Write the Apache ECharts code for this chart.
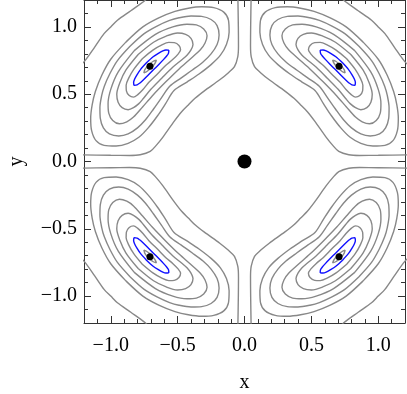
<!DOCTYPE html>
<html>
<head>
<meta charset="utf-8">
<script src="https://cdn.jsdelivr.net/npm/echarts@6/dist/echarts.min.js"></script>
<style>
html, body { margin: 0; padding: 0; background: #fff; }
#chart { width: 407px; height: 394px; }
</style>
</head>
<body>
<div id="chart"></div>
<script>
// contour lines traced in the upper-right quadrant (picture is symmetric, mirrored below)
const curveA = [[0.05,1.25],[0.046,1.0],[0.045,0.86],[0.05,0.78],[0.075,0.705],[0.12,0.66],[0.185,0.607],[0.30,0.525],[0.37,0.47],[0.42,0.42],[0.47,0.37],[0.525,0.30],[0.607,0.185],[0.66,0.12],[0.705,0.075],[0.78,0.05],[0.86,0.045],[1.0,0.046],[1.25,0.05]];
const curveB = [[0.70,1.25],[0.74,1.2],[0.85,1.12],[0.95,1.05],[1.0,1.0],[1.05,0.95],[1.12,0.85],[1.2,0.74],[1.25,0.70]];
const ring1 = [[0.887,0.887],[1.000,0.76],[1.067,0.641],[1.115,0.52],[1.139,0.42],[1.150,0.32],[1.143,0.23],[1.11,0.155],[1.05,0.12],[0.96,0.115],[0.87,0.135],[0.79,0.18],[0.72,0.25],[0.65,0.34],[0.59,0.43],[0.527,0.527],[0.43,0.59],[0.34,0.65],[0.25,0.72],[0.18,0.79],[0.135,0.87],[0.115,0.96],[0.12,1.05],[0.155,1.11],[0.23,1.143],[0.32,1.150],[0.42,1.139],[0.52,1.115],[0.641,1.067],[0.76,1.0],[0.887,0.887]];
const ring2 = [[0.856,0.856],[0.95,0.75],[1.006,0.654],[1.048,0.56],[1.068,0.489],[1.081,0.40],[1.078,0.32],[1.055,0.25],[1.01,0.205],[0.94,0.19],[0.87,0.205],[0.80,0.25],[0.74,0.31],[0.68,0.39],[0.62,0.475],[0.559,0.559],[0.475,0.62],[0.39,0.68],[0.31,0.74],[0.25,0.80],[0.205,0.87],[0.19,0.94],[0.205,1.01],[0.25,1.055],[0.32,1.078],[0.40,1.081],[0.489,1.068],[0.56,1.048],[0.654,1.006],[0.75,0.95],[0.856,0.856]];
const ring3 = [[0.824,0.824],[0.944,0.666],[1.0,0.536],[1.02,0.43],[1.015,0.36],[0.985,0.305],[0.935,0.28],[0.88,0.295],[0.83,0.33],[0.762,0.405],[0.69,0.487],[0.59,0.59],[0.487,0.69],[0.405,0.762],[0.33,0.83],[0.295,0.88],[0.28,0.935],[0.305,0.985],[0.36,1.015],[0.43,1.02],[0.536,1.0],[0.666,0.944],[0.824,0.824]];
const ring4 = [[0.795,0.795],[0.886,0.68],[0.932,0.585],[0.955,0.50],[0.945,0.44],[0.915,0.40],[0.87,0.385],[0.83,0.40],[0.79,0.43],[0.758,0.466],[0.70,0.537],[0.619,0.619],[0.537,0.70],[0.466,0.758],[0.43,0.79],[0.40,0.83],[0.385,0.87],[0.40,0.915],[0.44,0.945],[0.50,0.955],[0.585,0.932],[0.68,0.886],[0.795,0.795]];
const ring5 = [[0.764,0.764],[0.828,0.685],[0.865,0.621],[0.885,0.566],[0.883,0.525],[0.862,0.49],[0.83,0.478],[0.80,0.495],[0.759,0.535],[0.713,0.59],[0.651,0.651],[0.59,0.713],[0.535,0.759],[0.495,0.80],[0.478,0.83],[0.49,0.862],[0.525,0.883],[0.566,0.885],[0.621,0.865],[0.685,0.828],[0.764,0.764]];
const ringCore = [[0.718,0.718],[0.745,0.682],[0.752,0.659],[0.730,0.669],[0.696,0.696],[0.669,0.730],[0.659,0.752],[0.682,0.745],[0.718,0.718]];
const ringBlue = [[0.733,0.733],[0.778,0.683],[0.804,0.644],[0.822,0.611],[0.829,0.587],[0.824,0.566],[0.803,0.569],[0.784,0.582],[0.757,0.606],[0.725,0.637],[0.681,0.681],[0.637,0.725],[0.606,0.757],[0.582,0.784],[0.569,0.803],[0.566,0.824],[0.587,0.829],[0.611,0.822],[0.644,0.804],[0.683,0.778],[0.733,0.733]];

const minima = [[0.707,0.707],[-0.707,0.707],[-0.707,-0.707],[0.707,-0.707]];
const origin = [[0,0]];
const majorTicks = [-1, -0.5, 0, 0.5, 1];

const quadrants = [[1,1],[-1,1],[-1,-1],[1,-1]];
const grayCurves = [curveA, curveB, ring1, ring2, ring3, ring4, ring5, ringCore];

const font = 'Liberation Serif';
const frameColor = '#333';

function lineSeries(pts, sx, sy, color) {
  return {
    type: 'line',
    data: pts.map(p => [p[0] * sx, p[1] * sy]),
    showSymbol: false,
    symbol: 'none',
    smooth: 0.3,
    silent: true,
    lineStyle: { color: color, width: 1.4 },
    z: 2
  };
}

let series = [];
quadrants.forEach(q => {
  grayCurves.forEach(c => series.push(lineSeries(c, q[0], q[1], '#888')));
  series.push(lineSeries(ringBlue, q[0], q[1], '#1010ff'));
});
series.push({
  type: 'scatter', data: minima, symbolSize: 7, itemStyle: { color: '#000', opacity: 1 }, silent: true, z: 5
});
series.push({
  type: 'scatter', data: origin, symbolSize: 14, itemStyle: { color: '#000', opacity: 1 }, silent: true, z: 5
});

function fmt(v) {
  return (v < 0 ? '\u2212' : '') + Math.abs(v).toFixed(1);
}

// minor ticks every 0.1, major ticks + labels at multiples of 0.5
function axes(pos, withLabels, margin, name, nameGap) {
  let minor = {
    type: 'value', min: -1.2, max: 1.2, interval: 0.1, position: pos,
    axisLine: { show: true, onZero: false, lineStyle: { color: frameColor, width: 1 } },
    axisTick: { show: true, inside: true, length: 4, lineStyle: { color: frameColor } },
    axisLabel: { show: false },
    splitLine: { show: false }
  };
  let major = {
    type: 'value', min: -1.2, max: 1.2, position: pos,
    axisLine: { show: false, onZero: false },
    axisTick: { show: true, inside: true, length: 7, customValues: majorTicks, lineStyle: { color: frameColor } },
    axisLabel: {
      show: withLabels, customValues: majorTicks, formatter: fmt,
      fontFamily: font, fontSize: 20, color: '#000', margin: margin
    },
    splitLine: { show: false }
  };
  if (name) {
    major.name = name;
    major.nameLocation = 'middle';
    major.nameGap = nameGap;
    major.nameTextStyle = { fontFamily: font, fontSize: 20, color: '#000' };
  }
  return [minor, major];
}

const chart = echarts.init(document.getElementById('chart'));
chart.setOption({
  animation: false,
  backgroundColor: '#fff',
  grid: { left: 84, right: 2, top: 0, bottom: 71, containLabel: false, outerBoundsMode: 'none' },
  xAxis: [].concat(axes('bottom', true, 13, 'x', 50), axes('top', false, 8)),
  yAxis: [].concat(axes('left', true, 7, 'y', 57), axes('right', false, 8)),
  series: series
});
</script>
</body>
</html>
